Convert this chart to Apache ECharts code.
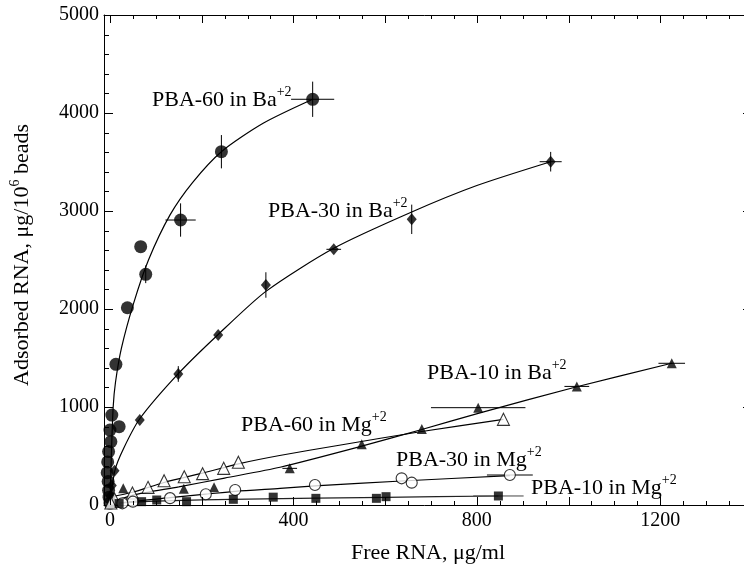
<!DOCTYPE html>
<html>
<head>
<meta charset="utf-8">
<script src="https://cdn.jsdelivr.net/npm/echarts@6/dist/echarts.min.js"></script>
<style>
  html, body { margin: 0; padding: 0; background: #fff; }
  #chart { width: 744px; height: 566px; }
</style>
</head>
<body>
<div id="chart"></div>
<script>
// RNA adsorbed on PBA beads versus free RNA, in Ba2+ and Mg2+ buffers.
// Each series: measured points [free, adsorbed], error bars [free, adsorbed, dFree, dAdsorbed],
// and the fitted curve traced as [free, adsorbed] pairs.

const xLabelValues = [0, 400, 800, 1200];
const xMajorTicks = [0, 200, 400, 600, 800, 1000, 1200];
const xMinorTicks = [50, 100, 150, 250, 300, 350, 450, 500, 550, 650, 700,
  750, 850, 900, 950, 1050, 1100, 1150, 1250, 1300, 1350];
const yMajorTicks = [1000, 2000, 3000, 4000];
const yMinorTicks = [200, 400, 600, 800, 1200, 1400, 1600, 1800, 2200, 2400, 2600, 2800,
  3200, 3400, 3600, 3800, 4200, 4400, 4600, 4800];

// PBA-60 in Ba+2 (filled circles)
const ba60Points = [[442, 4140], [243, 3605], [154, 2908], [67, 2636], [78, 2354], [38, 2013],
  [13, 1435], [4, 918], [20, 799], [0, 765], [2, 646], [-3, 545], [-5, 440], [-6, 330],
  [-4, 240], [-3, 150], [-2, 80], [0, 20]];
const ba60Errors = [[442, 4140, 47, 180], [243, 3605, 0, 170], [154, 2908, 33, 170], [78, 2354, 0, 90]];
const ba60Fit = [[0, 0], [3, 500], [7, 1000], [12, 1250], [25, 1600], [51, 2050], [84, 2500],
  [131, 2960], [180, 3290], [243, 3605], [334, 3895], [442, 4140]];

// PBA-30 in Ba+2 (filled diamonds)
const ba30Points = [[961, 3503], [658, 2915], [488, 2609], [340, 2245], [236, 1735], [149, 1337],
  [65, 867], [10, 350], [4, 200], [1, 90]];
const ba30Errors = [[961, 3503, 24, 100], [658, 2915, 0, 150], [488, 2609, 16, 0], [340, 2245, 0, 130], [149, 1337, 0, 80]];
const ba30Fit = [[0, 0], [11, 357], [30, 580], [65, 880], [149, 1340], [236, 1740], [340, 2180],
  [488, 2620], [658, 2990], [800, 3260], [961, 3503]];

// PBA-10 in Ba+2 (filled triangles)
const ba10Points = [[1225, 1446], [1018, 1210], [803, 993], [680, 775], [549, 619], [392, 374],
  [227, 180], [161, 165], [29, 170], [5, 60], [1, 20]];
const ba10Errors = [[1225, 1446, 29, 0], [1018, 1210, 27, 0], [803, 993, 103, 0], [392, 374, 16, 0]];
const ba10Fit = [[0, 20], [50, 100], [150, 185], [250, 275], [371, 385], [549, 600], [680, 770],
  [803, 935], [1018, 1207], [1225, 1446]];

// PBA-60 in Mg+2 (open triangles)
const mg60Points = [[858, 874], [280, 436], [248, 374], [202, 320], [162, 289], [118, 248],
  [83, 180], [49, 122], [10, 60], [2, 20]];
const mg60Fit = [[0, 80], [49, 130], [118, 230], [202, 325], [280, 420], [370, 505], [500, 610],
  [680, 750], [858, 874]];

// PBA-30 in Mg+2 (open circles)
const mg30Points = [[872, 306], [658, 228], [636, 272], [447, 204], [273, 153], [209, 110],
  [131, 70], [50, 34], [27, 17]];
const mg30Errors = [[872, 306, 50, 0]];
const mg30Fit = [[0, 0], [27, 25], [131, 75], [209, 110], [273, 140], [371, 170], [447, 195],
  [636, 245], [872, 300]];

// PBA-10 in Mg+2 (filled squares)
const mg10Points = [[847, 92], [602, 85], [581, 68], [449, 68], [356, 80], [269, 58], [167, 34],
  [102, 51], [69, 34], [20, 15]];
const mg10Errors = [[847, 92, 55, 0]];
const mg10Fit = [[0, 15], [100, 40], [300, 60], [600, 78], [847, 92]];

const FONT = '"Liberation Serif", "Times New Roman", Times, serif';
const X_MIN = -13, X_MAX = 1400;

function fitLine(data, color) {
  return {
    type: 'line', data: data, xAxisIndex: 0, yAxisIndex: 0,
    showSymbol: false, smooth: 0.25, z: 2, silent: true,
    lineStyle: { color: color || '#000', width: 1.2 }
  };
}

function markers(data, symbol, size, filled) {
  return {
    type: 'scatter', data: data, xAxisIndex: 0, yAxisIndex: 0,
    symbol: symbol, symbolSize: size, z: 4,
    itemStyle: filled
      ? { color: '#000', borderWidth: 0 }
      : { color: '#fff', borderColor: '#000', borderWidth: 1.1 }
  };
}

function errorBars(data, color) {
  return {
    type: 'custom', data: data, xAxisIndex: 0, yAxisIndex: 0, z: 3, silent: true,
    encode: { x: 0, y: 1 },
    renderItem: function (params, api) {
      const x = api.value(0), y = api.value(1), dx = api.value(2), dy = api.value(3);
      const style = { stroke: color || '#000', lineWidth: 1 };
      const children = [];
      if (dx > 0) {
        const a = api.coord([x - dx, y]), b = api.coord([x + dx, y]);
        children.push({ type: 'line', shape: { x1: a[0], y1: a[1], x2: b[0], y2: b[1] }, style: style });
      }
      if (dy > 0) {
        const a = api.coord([x, y - dy]), b = api.coord([x, y + dy]);
        children.push({ type: 'line', shape: { x1: a[0], y1: a[1], x2: b[0], y2: b[1] }, style: style });
      }
      return { type: 'group', children: children };
    }
  };
}

// Inward ticks on all four sides of the frame, placed through the axis scales.
function frameTicks(values, dir, len) {
  const data = values.map(function (v) { return dir === 'x' ? [v, 0] : [0, v]; });
  return {
    type: 'custom', data: data, xAxisIndex: 0, yAxisIndex: 0, z: 5, silent: true,
    encode: dir === 'x' ? { x: 0 } : { y: 1 },
    renderItem: function (params, api) {
      const cs = params.coordSys;
      const style = { stroke: '#000', lineWidth: 1 };
      let lines;
      if (dir === 'x') {
        const px = Math.round(api.coord([api.value(0), 0])[0]) + 0.5;
        const bottom = cs.y + cs.height, top = cs.y;
        lines = [[px, bottom, px, bottom - len], [px, top, px, top + len]];
      } else {
        const py = Math.round(api.coord([0, api.value(1)])[1]) + 0.5;
        const left = cs.x, right = cs.x + cs.width;
        lines = [[left, py, left + len, py], [right, py, right - len, py]];
      }
      return {
        type: 'group',
        children: lines.map(function (l) {
          return { type: 'line', shape: { x1: l[0], y1: l[1], x2: l[2], y2: l[3] }, style: style };
        })
      };
    }
  };
}

function plainNumber(v) { return String(v); }

function label(text, x, y) {
  return {
    type: 'text', x: x, y: y, z: 10, silent: true,
    style: {
      text: text, fontSize: 22, fontFamily: FONT, fill: '#000',
      align: 'left', verticalAlign: 'middle', textAlign: 'left', textVerticalAlign: 'middle',
      rich: {
        sup: { fontSize: 14, fontFamily: FONT, fill: '#000', padding: [0, 0, 15, 0] }
      }
    }
  };
}

const chart = echarts.init(document.getElementById('chart'), null, { renderer: 'canvas' });
chart.setOption({
  backgroundColor: '#fff',
  animation: false,
  grid: { left: 104, top: 15, width: 648, height: 490, outerBoundsMode: 'none', containLabel: false },
  xAxis: [
    {
      type: 'value', position: 'bottom', min: X_MIN, max: X_MAX,
      axisLine: { show: true, onZero: false, lineStyle: { color: '#000', width: 1 } },
      axisTick: { show: false },
      axisLabel: { show: true, customValues: xLabelValues, formatter: plainNumber,
        fontSize: 20, fontFamily: FONT, color: '#000', margin: 6 },
      splitLine: { show: false },
      name: 'Free RNA, μg/ml', nameLocation: 'middle', nameGap: 37,
      nameTextStyle: { fontSize: 22, fontFamily: FONT, color: '#000' }
    },
    {
      type: 'value', position: 'top', min: X_MIN, max: X_MAX,
      axisLine: { show: true, onZero: false, lineStyle: { color: '#000', width: 1 } },
      axisTick: { show: false }, axisLabel: { show: false }, splitLine: { show: false }
    }
  ],
  yAxis: [
    {
      type: 'value', position: 'left', min: 0, max: 5000, interval: 1000,
      axisLine: { show: true, onZero: false, lineStyle: { color: '#000', width: 1 } },
      axisTick: { show: false },
      axisLabel: { show: true, formatter: plainNumber, fontSize: 20, fontFamily: FONT, color: '#000', margin: 5 },
      splitLine: { show: false }
    },
    {
      type: 'value', position: 'right', min: 0, max: 5000, interval: 1000,
      axisLine: { show: true, onZero: false, lineStyle: { color: '#000', width: 1 } },
      axisTick: { show: false }, axisLabel: { show: false }, splitLine: { show: false }
    }
  ],
  series: [
    frameTicks(xMajorTicks, 'x', 8), frameTicks(xMinorTicks, 'x', 4),
    frameTicks(yMajorTicks, 'y', 9), frameTicks(yMinorTicks, 'y', 5),
    fitLine(ba60Fit), fitLine(ba30Fit), fitLine(ba10Fit),
    fitLine(mg60Fit), fitLine(mg30Fit), fitLine(mg10Fit, '#222'),
    errorBars(ba60Errors), errorBars(ba30Errors), errorBars(ba10Errors),
    errorBars(mg30Errors), errorBars(mg10Errors, '#444'),
    markers(ba60Points, 'circle', 13, true),
    markers(ba30Points, 'diamond', [10, 12], true),
    markers(ba10Points, 'triangle', 10, true),
    markers(mg60Points, 'triangle', 12, false),
    markers(mg30Points, 'circle', 11, false),
    markers(mg10Points, 'rect', 9, true)
  ],
  graphic: [
    {
      type: 'text', x: 22, y: 255, rotation: Math.PI / 2, silent: true,
      style: {
        text: 'Adsorbed RNA, μg/10{sup|6} beads', fontSize: 22, fontFamily: FONT, fill: '#000',
        align: 'center', verticalAlign: 'middle', textAlign: 'center', textVerticalAlign: 'middle',
        rich: { sup: { fontSize: 14, fontFamily: FONT, fill: '#000', padding: [0, 0, 14, 0] } }
      }
    },
    label('PBA-60 in Ba{sup|+2}', 152, 100),
    label('PBA-30 in Ba{sup|+2}', 268, 211),
    label('PBA-10 in Ba{sup|+2}', 427, 373),
    label('PBA-60 in Mg{sup|+2}', 241, 425),
    label('PBA-30 in Mg{sup|+2}', 396, 460),
    label('PBA-10 in Mg{sup|+2}', 531, 488)
  ]
});
</script>
</body>
</html>
